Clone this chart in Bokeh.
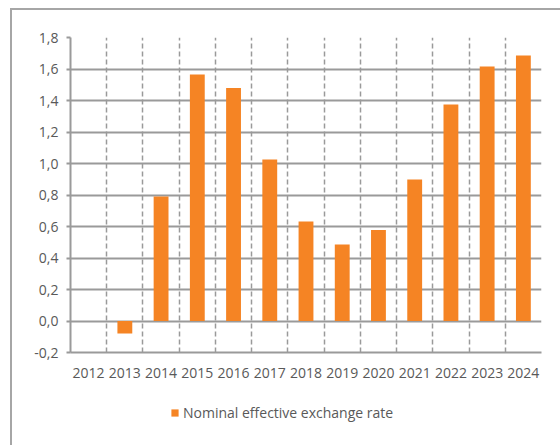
from bokeh.plotting import figure
from bokeh.models import (ColumnDataSource, FixedTicker, CustomJSTickFormatter,
                          Legend, LegendItem, Range1d)
from bokeh.layouts import column
from bokeh.embed import file_html
from bokeh.resources import INLINE

years = ["2012", "2013", "2014", "2015", "2016", "2017", "2018",
         "2019", "2020", "2021", "2022", "2023", "2024"]
values = [None, -0.08, 0.79, 1.565, 1.48, 1.025, 0.632,
          0.486, 0.578, 0.898, 1.375, 1.616, 1.686]
y_ticks = [-0.2, 0.0, 0.2, 0.4, 0.6, 0.8, 1.0, 1.2, 1.4, 1.6, 1.8]
series_name = "Nominal effective exchange rate"

idx = list(range(len(years)))
xs = [i for i, v in zip(idx, values) if v is not None]
vs = [v for v in values if v is not None]
src = ColumnDataSource(dict(x=xs, top=vs))

FONT = "Open Sans"
GREY = "#9a9a9a"
TXT = "#595959"
ORANGE = "#F58424"

# the chart sits inside a box whose left/top border is at x=10, y=8
p = figure(width=548, height=382, output_backend="svg", toolbar_location=None,
           x_range=Range1d(-0.5, len(years) - 0.5), y_range=Range1d(y_ticks[0], y_ticks[-1]),
           min_border_left=58, min_border_right=19, min_border_top=27, min_border_bottom=40)
p.outline_line_color = None
p.background_fill_color = "white"
p.border_fill_color = "white"

r = p.vbar(x="x", top="top", bottom=0, width=0.41, source=src,
           fill_color=ORANGE, line_color=None)

# axes
p.xaxis.ticker = FixedTicker(ticks=idx)
p.xaxis.major_label_overrides = {i: y for i, y in zip(idx, years)}
p.xaxis.major_tick_line_color = None
p.xaxis.minor_tick_line_color = None
p.xaxis.axis_line_color = GREY
p.xaxis.axis_line_width = 2
p.xaxis.major_label_standoff = 9

p.yaxis.ticker = FixedTicker(ticks=y_ticks)
p.yaxis.formatter = CustomJSTickFormatter(code="return tick.toFixed(1).replace('.', ',');")
p.yaxis.major_tick_line_color = GREY
p.yaxis.major_tick_line_width = 2
p.yaxis.major_tick_out = 4
p.yaxis.major_tick_in = 0
p.yaxis.minor_tick_line_color = None
p.yaxis.axis_line_color = GREY
p.yaxis.axis_line_width = 2
p.yaxis.major_label_standoff = 8

for ax in (p.xaxis, p.yaxis):
    ax.major_label_text_font = FONT
    ax.major_label_text_font_size = "14px"
    ax.major_label_text_color = TXT

# grids
p.ygrid.ticker = FixedTicker(ticks=y_ticks)
p.ygrid.grid_line_color = GREY
p.ygrid.grid_line_width = 2
p.xgrid.ticker = FixedTicker(ticks=[i + 0.5 for i in idx])
p.xgrid.grid_line_color = GREY
p.xgrid.grid_line_width = 1.5
p.xgrid.grid_line_dash = "5 3"

# legend strip below the chart (same series, not drawn, only its legend entry)
p2 = figure(width=548, height=53, output_backend="svg", toolbar_location=None,
            x_axis_location=None, y_axis_location=None,
            min_border=0, min_border_left=0, min_border_right=0,
            min_border_top=0, min_border_bottom=0, outline_line_color=None)
p2.grid.visible = False
r2 = p2.vbar(x="x", top="top", bottom=0, width=0.41, source=src,
             fill_color=ORANGE, line_color=None, visible=False)

legend = Legend(items=[LegendItem(label=series_name, renderers=[r2])],
                location=(100, 23), orientation="horizontal",
                padding=0, margin=0, spacing=0, glyph_width=9, glyph_height=9,
                label_standoff=4, border_line_color=None, background_fill_alpha=0,
                inactive_fill_alpha=0,
                label_text_font=FONT, label_text_font_size="14px", label_text_color=TXT)
p2.add_layout(legend, "center")

layout = column(p, p2, margin=(8, 0, 0, 10), spacing=0,
                styles={"border-left": "2px solid #a6a6a6", "border-top": "2px solid #a6a6a6"})

open("out.html", "w").write(file_html(layout, INLINE))
